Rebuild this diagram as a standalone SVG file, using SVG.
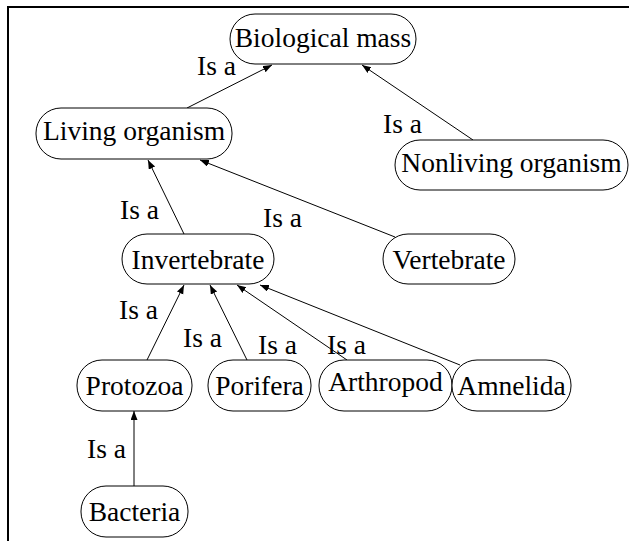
<svg xmlns="http://www.w3.org/2000/svg" width="629" height="541" viewBox="0 0 629 541">
  <defs>
    <marker id="tip" markerUnits="userSpaceOnUse" markerWidth="10" markerHeight="8" refX="9" refY="3.5" orient="auto">
      <path d="M0,0 L9,3.5 L0,7 Z" fill="#000"/>
    </marker>
  </defs>
  <style>
    .box { fill: #fff; stroke: #000; stroke-width: 1; }
    text { font-family: 'Liberation Serif', 'DejaVu Serif', serif; font-size: 27.5px; fill: #000; }
    .lbl { text-anchor: middle; }
    .edge { fill: none; stroke: #000; stroke-width: 1; marker-end: url(#tip); }
    .frame { stroke: #000; stroke-width: 2; fill: none; }
  </style>
  <rect width="629" height="541" fill="#fff"/>

  <!-- frame -->
  <path class="frame" d="M8,541 L8,7 L629,7"/>

  <!-- connectors -->
  <g id="connectors">
    <line class="edge" x1="187" y1="108" x2="272" y2="65"/>
    <line class="edge" x1="473" y1="140" x2="362" y2="65"/>
    <line class="edge" x1="184" y1="234" x2="148" y2="160"/>
    <line class="edge" x1="395" y1="237" x2="200" y2="160"/>
    <line class="edge" x1="147" y1="360" x2="184" y2="285"/>
    <line class="edge" x1="247" y1="360" x2="210" y2="285"/>
    <line class="edge" x1="347" y1="360" x2="237" y2="285"/>
    <line class="edge" x1="460" y1="365" x2="260" y2="285"/>
    <line class="edge" x1="134" y1="486" x2="134" y2="411"/>
    <text x="197" y="75">Is a</text>
    <text x="383" y="133">Is a</text>
    <text x="120" y="219">Is a</text>
    <text x="263" y="227">Is a</text>
    <text x="119" y="319">Is a</text>
    <text x="183" y="347">Is a</text>
    <text x="258" y="354">Is a</text>
    <text x="327" y="354">Is a</text>
    <text x="87" y="458">Is a</text>
  </g>

  <!-- nodes -->
  <g id="biological-mass">
    <rect class="box" x="230" y="14" width="186" height="50" rx="25"/>
    <text class="lbl" x="323" y="47">Biological mass</text>
  </g>
  <g id="living-organism">
    <rect class="box" x="36" y="108" width="196" height="51" rx="25"/>
    <text class="lbl" x="134" y="140">Living organism</text>
  </g>
  <g id="nonliving-organism">
    <rect class="box" x="395" y="140" width="233" height="50" rx="25"/>
    <text class="lbl" x="511.5" y="172">Nonliving organism</text>
  </g>
  <g id="invertebrate">
    <rect class="box" x="122" y="234" width="152" height="50" rx="25"/>
    <text class="lbl" x="198" y="269">Invertebrate</text>
  </g>
  <g id="vertebrate">
    <rect class="box" x="383" y="234" width="132" height="50" rx="25"/>
    <text class="lbl" x="449" y="269">Vertebrate</text>
  </g>
  <g id="protozoa">
    <rect class="box" x="77" y="360" width="115" height="51" rx="25"/>
    <text class="lbl" x="134.5" y="395">Protozoa</text>
  </g>
  <g id="porifera">
    <rect class="box" x="208" y="360" width="103" height="51" rx="25"/>
    <text class="lbl" x="259.5" y="395">Porifera</text>
  </g>
  <g id="arthropod">
    <rect class="box" x="319" y="360" width="133" height="51" rx="25"/>
    <text class="lbl" x="385.5" y="391">Arthropod</text>
  </g>
  <g id="amnelida">
    <rect class="box" x="452" y="360" width="119" height="51" rx="25"/>
    <text class="lbl" x="511.5" y="395">Amnelida</text>
  </g>
  <g id="bacteria">
    <rect class="box" x="81" y="486" width="107" height="51" rx="25"/>
    <text class="lbl" x="134.5" y="521">Bacteria</text>
  </g>
</svg>
